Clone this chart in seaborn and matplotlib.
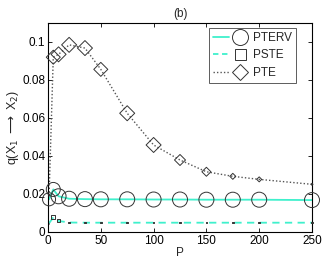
import numpy as np
import pandas as pd
import matplotlib
matplotlib.use("Agg")
import matplotlib.pyplot as plt
import seaborn as sns
from matplotlib.lines import Line2D
from matplotlib.legend_handler import HandlerTuple

# ---- data ----
P = [1, 5, 10, 20, 35, 50, 75, 100, 125, 150, 175, 200, 250]
pterv = [0.0172, 0.0224, 0.0188, 0.0175, 0.0173, 0.0172, 0.0172, 0.0171, 0.0171, 0.0170, 0.0170, 0.0170, 0.0168]
pste = [0.0046, 0.0077, 0.0058, 0.0050, 0.0049, 0.0049, 0.0049, 0.0049, 0.0049, 0.0049, 0.0049, 0.0049, 0.0049]
pte = [0.0190, 0.0920, 0.0935, 0.0985, 0.0968, 0.0856, 0.0625, 0.0458, 0.0379, 0.0317, 0.0293, 0.0277, 0.0251]
# spread of each estimate (shown as marker width, px)
pterv_spread = [13, 14, 15, 15, 15, 15, 15, 15, 15, 15, 15, 15, 15]
pste_spread = [0.5, 4, 3, 1.5, 1.5, 1.5, 1.5, 1.5, 1.5, 1.5, 1.5, 1.5, 1.5]
pte_spread = [0.5, 14, 15, 15, 15, 14, 15, 15, 11, 9, 6, 5, 2]

series = ["PTERV", "PSTE", "PTE"]
x_ticks = [0, 50, 100, 150, 200, 250]
y_ticks = [0, 0.02, 0.04, 0.06, 0.08, 0.1]
y_tick_labels = ["0", "0.02", "0.04", "0.06", "0.08", "0.1"]

df = pd.DataFrame({"P": P, "PTERV": pterv, "PSTE": pste, "PTE": pte})

sns.set_style("white")
plt.rcParams["font.family"] = ["Liberation Sans", "DejaVu Sans"]
plt.rcParams["font.size"] = 8.5

DPI = 100
fig = plt.figure(figsize=(3.27, 2.61), dpi=DPI)
ax = fig.add_axes([48 / 327, 1 - 232 / 261, 264 / 327, 209 / 261])

cyan = "#3ff0cc"
mk_edge = "#333333"
px2pt = 72 / DPI

# lines
sns.lineplot(data=df, x="P", y="PTERV", ax=ax, color=cyan, lw=1.3, linestyle="-")
sns.lineplot(data=df, x="P", y="PSTE", ax=ax, color=cyan, lw=1.3, linestyle=(0, (4, 3)))
sns.lineplot(data=df, x="P", y="PTE", ax=ax, color="#555555", lw=1.0, linestyle=(0, (1, 1.5)))

# markers (open, sized by spread)
s_circ = [(w * px2pt) ** 2 for w in pterv_spread]
s_sq = [(w * px2pt) ** 2 for w in pste_spread]
s_dia = [(w * px2pt / np.sqrt(2)) ** 2 for w in pte_spread]
sns.scatterplot(data=df, x="P", y="PTERV", ax=ax, marker="o", s=s_circ,
                facecolors="none", edgecolor=mk_edge, linewidth=0.7, clip_on=False, zorder=5)
sns.scatterplot(data=df, x="P", y="PSTE", ax=ax, marker="s", s=s_sq,
                facecolors="none", edgecolor=mk_edge, linewidth=0.7, clip_on=False, zorder=5)
sns.scatterplot(data=df, x="P", y="PTE", ax=ax, marker="D", s=s_dia,
                facecolors="none", edgecolor=mk_edge, linewidth=0.7, clip_on=False, zorder=5)

ax.set_xlim(0, 250)
ax.set_ylim(0, 0.11)
ax.set_xticks(x_ticks)
ax.set_xticklabels([str(t) for t in x_ticks])
ax.set_yticks(y_ticks)
ax.set_yticklabels(y_tick_labels)
ax.tick_params(direction="in", length=3, width=0.6, top=True, right=True,
               bottom=True, left=True, labelsize=8.5, colors="black", pad=2)
for sp in ax.spines.values():
    sp.set_visible(True)
    sp.set_color("black")
    sp.set_linewidth(0.8)

ax.set_xlabel("P", fontsize=8.5, labelpad=0)
ax.set_ylabel("q(X$_1$ $\\longrightarrow$ X$_2$)", fontsize=9, labelpad=1)
ax.set_title("(b)", fontsize=8.5, pad=4)

# legend: line sample followed by marker
def pair(ls, col, lw, mk, ms):
    ln = Line2D([], [], color=col, lw=lw, linestyle=ls)
    m = Line2D([], [], marker=mk, markersize=ms, markerfacecolor="none",
               markeredgecolor=mk_edge, markeredgewidth=0.7, linestyle="none")
    return (ln, m)

handles = [
    pair("-", cyan, 1.3, "o", 16 * px2pt),
    pair((0, (3, 2)), cyan, 1.3, "s", 11 * px2pt),
    pair((0, (1, 1.5)), "#555555", 1.0, "D", 16 * px2pt / np.sqrt(2)),
]
leg = ax.legend(handles, series, handler_map={tuple: HandlerTuple(ndivide=None, pad=0.2)},
                loc="upper right", bbox_to_anchor=((296 - 48) / 264, (232 - 28) / 209),
                borderaxespad=0, frameon=True, fancybox=False, handlelength=3.0,
                handletextpad=0.4, labelspacing=0.45, borderpad=0.35, fontsize=8.5)
leg.get_frame().set_edgecolor("#333333")
leg.get_frame().set_linewidth(0.7)

fig.savefig("out.png", dpi=DPI, facecolor="white")
